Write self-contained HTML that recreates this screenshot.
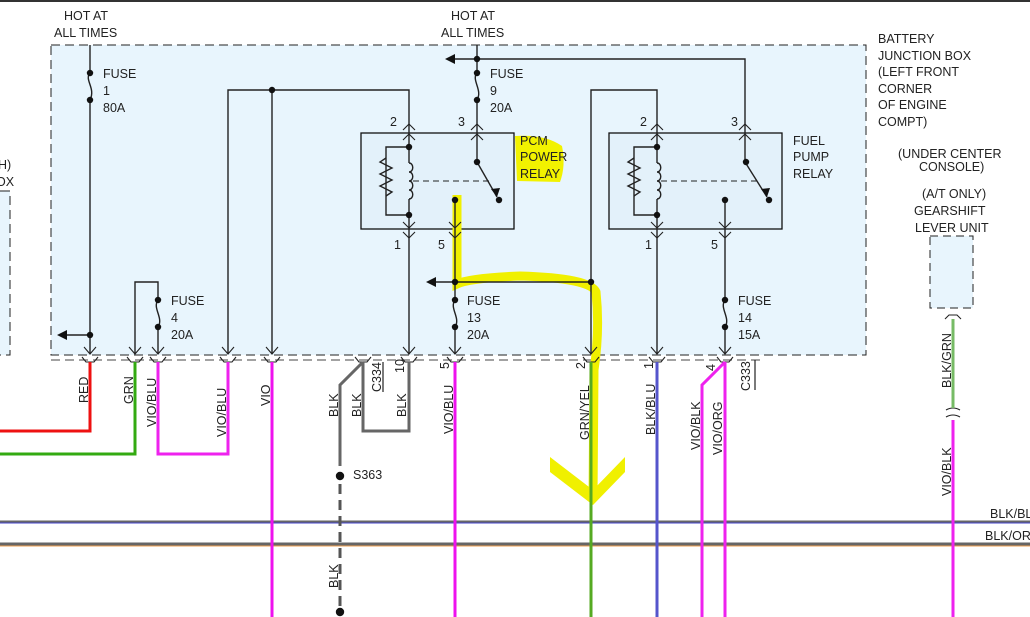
<!DOCTYPE html>
<html><head><meta charset="utf-8"><style>
html,body{margin:0;padding:0;background:#fff;}
svg{display:block;font-family:"Liberation Sans",sans-serif;}
text{font-size:12.5px;fill:#222;}
</style></head><body>
<svg width="1030" height="617" viewBox="0 0 1030 617" xmlns="http://www.w3.org/2000/svg">
<line x1="0" y1="1" x2="1030" y2="1" stroke="#333" stroke-width="2"/>
<rect x="51" y="45" width="815" height="310" fill="#e8f5fd" stroke="#222" stroke-dasharray="9,5"/>
<line x1="51" y1="360" x2="760" y2="360" stroke="#444" stroke-dasharray="9,5"/>
<rect x="-20" y="191" width="30" height="164" fill="#e8f5fd"/>
<polyline points="0,191 10,191" stroke="#222" fill="none"/>
<polyline points="10,196 10,355 0,355" stroke="#222" fill="none" stroke-dasharray="9,5"/>
<text x="-2" y="169">H)</text><text x="-4" y="186">OX</text>
<rect x="930" y="236" width="43" height="72" fill="#e8f5fd" stroke="#222" stroke-dasharray="8,5"/>
<rect x="361" y="133" width="153" height="96" fill="#e3f1fa" stroke="#111" stroke-width="1.3"/>
<rect x="609" y="133" width="173" height="96" fill="#e3f1fa" stroke="#111" stroke-width="1.3"/>

<path d="M515 136 Q545 134 562 146 Q566 166 560 182 L517 181 Z" fill="#f2f200"/>
<path d="M457 195 L457 284 Q470 278 520 276 Q590 278 596 292 Q600 330 594 370 L593 500" stroke="#f0f000" stroke-width="9" fill="none"/>
<path d="M550 457 L593 490 L625 457 L625 472 L593 505 L550 472 Z" fill="#f0f000"/>

<g stroke="#222" stroke-width="1.4" fill="none">
<line x1="90" y1="45" x2="90" y2="73"/><path d="M90 73 C84 80 96 88 90 100"/><line x1="90" y1="100" x2="90" y2="354"/>
<line x1="90" y1="335" x2="64" y2="335"/>
<polyline points="228,354 228,90 409,90 409,133"/>
<line x1="272" y1="90" x2="272" y2="354"/>
<polyline points="135,354 135,282 158,282 158,300"/>
<path d="M158 300 C152 308 164 318 158 327"/><line x1="158" y1="327" x2="158" y2="354"/>
<line x1="477" y1="45" x2="477" y2="73"/><path d="M477 73 C471 80 483 90 477 100"/><line x1="477" y1="100" x2="477" y2="133"/>
<polyline points="455,59 745,59 745,133"/>
<line x1="409" y1="133" x2="409" y2="147"/>
<polyline points="409,147 386,147 386,215 409,215"/>
<path d="M386 158 L380 162 L392 168 L380 174 L392 180 L380 186 L392 192 L386 196"/>
<path d="M409 163 c5 0 5 9 0 9 c5 0 5 9 0 9 c5 0 5 9 0 9 c5 0 5 9 0 9"/>
<line x1="409" y1="147" x2="409" y2="163"/><line x1="409" y1="199" x2="409" y2="229"/>
<line x1="413" y1="181" x2="490" y2="181" stroke-dasharray="6,4" stroke-width="1"/>
<line x1="477" y1="133" x2="477" y2="162"/><line x1="477" y1="162" x2="497" y2="197"/>
<line x1="455" y1="200" x2="455" y2="229"/>
<line x1="409" y1="229" x2="409" y2="354"/>
<line x1="455" y1="229" x2="455" y2="300"/><path d="M455 300 C449 308 461 318 455 327"/><line x1="455" y1="327" x2="455" y2="354"/>
<line x1="434" y1="282" x2="591" y2="282"/>
<polyline points="591,354 591,90 657,90 657,133"/>
<line x1="657" y1="133" x2="657" y2="147"/>
<polyline points="657,147 634,147 634,215 657,215"/>
<path d="M634 158 L628 162 L640 168 L628 174 L640 180 L628 186 L640 192 L634 196"/>
<path d="M657 163 c5 0 5 9 0 9 c5 0 5 9 0 9 c5 0 5 9 0 9 c5 0 5 9 0 9"/>
<line x1="657" y1="147" x2="657" y2="163"/><line x1="657" y1="199" x2="657" y2="229"/>
<line x1="661" y1="181" x2="758" y2="181" stroke-dasharray="6,4" stroke-width="1"/>
<line x1="745" y1="133" x2="745" y2="162"/><line x1="745" y1="162" x2="767" y2="197"/>
<line x1="725" y1="200" x2="725" y2="229"/>
<line x1="657" y1="229" x2="657" y2="354"/>
<line x1="725" y1="229" x2="725" y2="300"/><path d="M725 300 C719 308 731 318 725 327"/><line x1="725" y1="327" x2="725" y2="354"/>
<g stroke-width="1.1">
<polyline points="84,347 90,354 96,347"/><polyline points="129,347 135,354 141,347"/><polyline points="152,347 158,354 164,347"/>
<polyline points="222,347 228,354 234,347"/><polyline points="266,347 272,354 278,347"/><polyline points="403,347 409,354 415,347"/>
<polyline points="449,347 455,354 461,347"/><polyline points="585,347 591,354 597,347"/><polyline points="651,347 657,354 663,347"/>
<polyline points="719,347 725,354 731,347"/>
<polyline points="403,130 409,124 415,130"/><polyline points="403,140 409,134 415,140"/>
<polyline points="471,130 477,124 483,130"/><polyline points="471,140 477,134 483,140"/>
<polyline points="403,222 409,228 415,222"/><polyline points="403,232 409,238 415,232"/>
<polyline points="449,222 455,228 461,222"/><polyline points="449,232 455,238 461,232"/>
<polyline points="651,130 657,124 663,130"/><polyline points="651,140 657,134 663,140"/>
<polyline points="739,130 745,124 751,130"/><polyline points="739,140 745,134 751,140"/>
<polyline points="651,222 657,228 663,222"/><polyline points="651,232 657,238 663,232"/>
<polyline points="719,222 725,228 731,222"/><polyline points="719,232 725,238 731,232"/>
<polyline points="82,357 86,362 94,362 98,357"/><polyline points="127,357 131,362 139,362 143,357"/><polyline points="150,357 154,362 162,362 166,357"/>
<polyline points="220,357 224,362 232,362 236,357"/><polyline points="264,357 268,362 276,362 280,357"/><polyline points="355,357 359,362 367,362 371,357"/>
<polyline points="401,357 405,362 413,362 417,357"/><polyline points="447,357 451,362 459,362 463,357"/><polyline points="583,357 587,362 595,362 599,357"/>
<polyline points="649,357 653,362 661,362 665,357"/><polyline points="717,357 721,362 729,362 733,357"/>
<polyline points="945,319 949,315 957,315 961,319"/>
<path d="M946 410 Q953 406 960 410"/><path d="M946 417 Q953 413 960 417"/>
</g>
<line x1="755" y1="360" x2="755" y2="390" stroke-width="1.2"/>
<line x1="383" y1="362" x2="383" y2="392" stroke-width="1.2"/>
</g>
<polygon points="57,335 67,330 67,340" fill="#111"/>
<polygon points="445,59 455,54 455,64" fill="#111"/>
<polygon points="426,282 436,277 436,287" fill="#111"/>
<polygon points="497,197 491,189 500,188" fill="#111"/>
<polygon points="767,197 761,189 770,188" fill="#111"/>
<g fill="#111">
<circle cx="90" cy="73" r="3.2"/><circle cx="90" cy="100" r="3.2"/><circle cx="90" cy="335" r="3.2"/>
<circle cx="272" cy="90" r="3.2"/><circle cx="158" cy="300" r="3.2"/><circle cx="158" cy="327" r="3.2"/>
<circle cx="477" cy="59" r="3.2"/><circle cx="477" cy="73" r="3.2"/><circle cx="477" cy="100" r="3.2"/>
<circle cx="409" cy="147" r="3.2"/><circle cx="409" cy="215" r="3.2"/><circle cx="477" cy="162" r="3.2"/><circle cx="499" cy="200" r="3.2"/><circle cx="455" cy="200" r="3.2"/>
<circle cx="455" cy="282" r="3.2"/><circle cx="455" cy="300" r="3.2"/><circle cx="455" cy="327" r="3.2"/><circle cx="591" cy="282" r="3.2"/>
<circle cx="657" cy="147" r="3.2"/><circle cx="657" cy="215" r="3.2"/><circle cx="746" cy="162" r="3.2"/><circle cx="769" cy="200" r="3.2"/><circle cx="725" cy="200" r="3.2"/>
<circle cx="725" cy="300" r="3.2"/><circle cx="725" cy="327" r="3.2"/>
<circle cx="340" cy="476" r="4.2"/><circle cx="340" cy="612" r="4.2"/>
</g>
<line x1="0" y1="522" x2="1030" y2="522" stroke="#666" stroke-width="3"/><line x1="0" y1="523" x2="1030" y2="523" stroke="#4444cc" stroke-width="1"/>
<line x1="0" y1="544" x2="1030" y2="544" stroke="#666" stroke-width="3"/><line x1="0" y1="546" x2="1030" y2="546" stroke="#f0a050" stroke-width="1"/>
<g fill="none" stroke-width="3">
<polyline points="90,362 90,431 0,431" stroke="#ee1111"/>
<polyline points="135,362 135,454 0,454" stroke="#33aa11"/>
<polyline points="158,362 158,454 228,454 228,362" stroke="#ee22ee"/>
<line x1="272" y1="362" x2="272" y2="617" stroke="#ee11ee"/>
<polyline points="363,362 340,385 340,466" stroke="#666"/>
<line x1="340" y1="484" x2="340" y2="608" stroke="#555" stroke-dasharray="10,6"/>
<polyline points="363,362 363,431 409,431 409,362" stroke="#666"/>
<line x1="455" y1="362" x2="455" y2="617" stroke="#ee11ee"/>
<line x1="591" y1="362" x2="591" y2="617" stroke="#55aa22"/>
<line x1="657" y1="362" x2="657" y2="617" stroke="#5555cc"/>
<polyline points="725,362 702,385 702,617" stroke="#ee22ee"/>
<line x1="725" y1="362" x2="725" y2="617" stroke="#ee22ee"/>
<line x1="953" y1="319" x2="953" y2="408" stroke="#77bb66"/>
<line x1="953" y1="420" x2="953" y2="617" stroke="#ee22ee"/>
</g>
<text x="64" y="20">HOT AT</text><text x="54" y="37">ALL TIMES</text>
<text x="451" y="20">HOT AT</text><text x="441" y="37">ALL TIMES</text>
<text x="103" y="78">FUSE</text><text x="103" y="95">1</text><text x="103" y="112">80A</text>
<text x="490" y="78">FUSE</text><text x="490" y="95">9</text><text x="490" y="112">20A</text>
<text x="171" y="305">FUSE</text><text x="171" y="322">4</text><text x="171" y="339">20A</text>
<text x="467" y="305">FUSE</text><text x="467" y="322">13</text><text x="467" y="339">20A</text>
<text x="738" y="305">FUSE</text><text x="738" y="322">14</text><text x="738" y="339">15A</text>
<text x="390" y="126">2</text><text x="458" y="126">3</text><text x="394" y="249">1</text><text x="438" y="249">5</text>
<text x="640" y="126">2</text><text x="731" y="126">3</text><text x="645" y="249">1</text><text x="711" y="249">5</text>
<text x="520" y="145">PCM</text><text x="520" y="161">POWER</text><text x="520" y="178">RELAY</text>
<text x="793" y="145">FUEL</text><text x="793" y="161">PUMP</text><text x="793" y="178">RELAY</text>
<text x="878" y="43">BATTERY</text><text x="878" y="60">JUNCTION BOX</text><text x="878" y="76">(LEFT FRONT</text><text x="878" y="93">CORNER</text><text x="878" y="109">OF ENGINE</text><text x="878" y="126">COMPT)</text>
<text x="898" y="158">(UNDER CENTER</text><text x="919" y="171">CONSOLE)</text>
<text x="922" y="198">(A/T ONLY)</text><text x="914" y="215">GEARSHIFT</text><text x="915" y="232">LEVER UNIT</text>
<text x="353" y="479">S363</text>
<text x="990" y="518">BLK/BLU</text><text x="985" y="540">BLK/ORG</text>
<g font-size="12.5">
<text transform="translate(88,403) rotate(-90)">RED</text>
<text transform="translate(133,404) rotate(-90)">GRN</text>
<text transform="translate(156,427) rotate(-90)">VIO/BLU</text>
<text transform="translate(226,437) rotate(-90)">VIO/BLU</text>
<text transform="translate(270,406) rotate(-90)">VIO</text>
<text transform="translate(338,417) rotate(-90)">BLK</text>
<text transform="translate(361,417) rotate(-90)">BLK</text>
<text transform="translate(381,392) rotate(-90)">C334</text>
<text transform="translate(404,373) rotate(-90)">10</text>
<text transform="translate(406,417) rotate(-90)">BLK</text>
<text transform="translate(449,369) rotate(-90)">5</text>
<text transform="translate(453,434) rotate(-90)">VIO/BLU</text>
<text transform="translate(338,588) rotate(-90)">BLK</text>
<text transform="translate(585,369) rotate(-90)">2</text>
<text transform="translate(589,440) rotate(-90)">GRN/YEL</text>
<text transform="translate(653,369) rotate(-90)">1</text>
<text transform="translate(655,435) rotate(-90)">BLK/BLU</text>
<text transform="translate(715,371) rotate(-90)">4</text>
<text transform="translate(700,450) rotate(-90)">VIO/BLK</text>
<text transform="translate(722,455) rotate(-90)">VIO/ORG</text>
<text transform="translate(750,391) rotate(-90)">C333</text>
<text transform="translate(951,388) rotate(-90)">BLK/GRN</text>
<text transform="translate(951,496) rotate(-90)">VIO/BLK</text>
</g>
</svg>
</body></html>
